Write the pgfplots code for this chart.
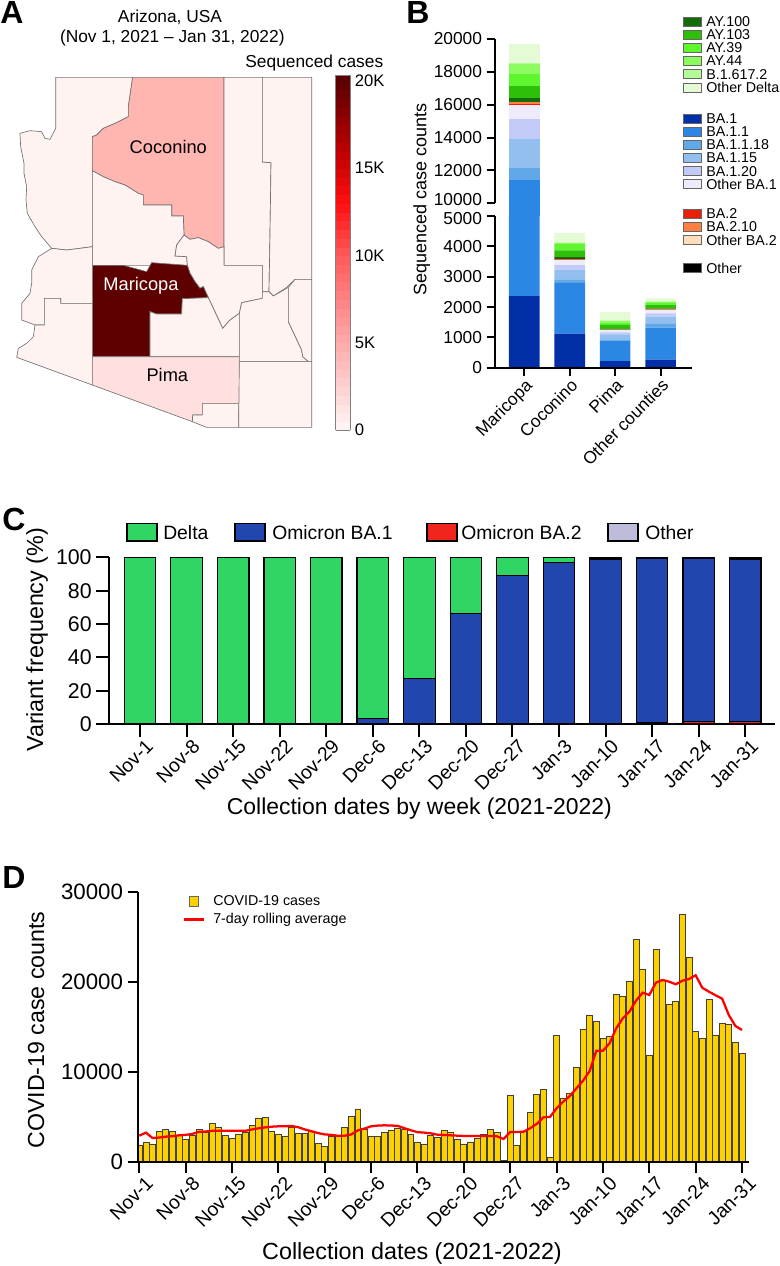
\documentclass[border=0pt]{standalone}
\usepackage{pgfplots}
\usepackage{pgfplotstable}
\pgfplotsset{compat=1.18}
\usepackage{fontspec}
\setmainfont{Liberation Sans}
\newcommand\fs[1]{\fontsize{#1}{#1}\selectfont}
\definecolor{cnt}{HTML}{FFF3F2}
\definecolor{coc}{HTML}{FFB5B0}
\definecolor{pim}{HTML}{FFE0DF}
\definecolor{mar}{HTML}{5F0000}
\definecolor{cA}{HTML}{002FA7}\definecolor{cB}{HTML}{2B87E3}\definecolor{cC}{HTML}{60A8E8}
\definecolor{cD}{HTML}{93BEF0}\definecolor{cE}{HTML}{C2CAF7}\definecolor{cF}{HTML}{F0EAFD}
\definecolor{cG}{HTML}{E8200A}\definecolor{cH}{HTML}{FF8040}\definecolor{cI}{HTML}{FFDDBB}
\definecolor{cJ}{HTML}{000000}
\definecolor{cK}{HTML}{156A0A}\definecolor{cL}{HTML}{2EBF0A}\definecolor{cM}{HTML}{5FF52F}
\definecolor{cN}{HTML}{8CFB60}\definecolor{cO}{HTML}{B5FB95}\definecolor{cP}{HTML}{E5FBD5}
\definecolor{dlt}{HTML}{30D563}\definecolor{bao}{HTML}{2146AD}\definecolor{bat}{HTML}{F0251E}\definecolor{oth}{HTML}{BDBDDB}
\definecolor{cas}{HTML}{FDD000}
\pgfplotsset{
  base/.style={scale only axis, enlargelimits=false, axis on top, scaled ticks=false,
    /pgf/number format/1000 sep={}, /pgf/number format/assume math mode=true,
    axis lines*=left, axis line style={line width=1.5pt,-},
    tick align=outside, major tick length=8pt, tick style={line width=1.5pt,black},
    minor tick num=0, xtick pos=bottom, ytick pos=left},
}
\pgfplotstableread{
x a b c d e f g h i j k l m n o p
0 2360 9060 750 1745 1195 870 80 80 10 10 240 740 750 570 100 1110
1 1120 1680 110 310 165 165 20 5 5 5 60 220 205 45 5 315
2 220 670 45 165 65 75 5 5 2 3 15 140 80 55 5 280
3 265 1055 140 220 110 110 12 13 3 2 15 120 85 25 5 105
}\Btab
\pgfplotstableread{
x ba2 ba1 oth dlt
0 0 0 0 100
1 0 0 0 100
2 0 0 0 100
3 0 0 0 100
4 0 0 0 100
5 0 3.5 0 96.5
6 0 27.5 0 72.5
7 0 66.5 0 33.5
8 0 89 0 11
9 0 97 0 3
10 0.3 98.3 0.4 1
11 0.8 98.5 0.5 0.2
12 1.5 97.8 0.5 0.2
13 1.7 97.3 0.8 0.2
}\Ctab
\newcommand\Bbars{%
\addplot[fill=cA,draw=none] table[x=x,y=a]{\Btab};
\addplot[fill=cB,draw=none] table[x=x,y=b]{\Btab};
\addplot[fill=cC,draw=none] table[x=x,y=c]{\Btab};
\addplot[fill=cD,draw=none] table[x=x,y=d]{\Btab};
\addplot[fill=cE,draw=none] table[x=x,y=e]{\Btab};
\addplot[fill=cF,draw=none] table[x=x,y=f]{\Btab};
\addplot[fill=cG,draw=none] table[x=x,y=g]{\Btab};
\addplot[fill=cH,draw=none] table[x=x,y=h]{\Btab};
\addplot[fill=cI,draw=none] table[x=x,y=i]{\Btab};
\addplot[fill=cJ,draw=none] table[x=x,y=j]{\Btab};
\addplot[fill=cK,draw=none] table[x=x,y=k]{\Btab};
\addplot[fill=cL,draw=none] table[x=x,y=l]{\Btab};
\addplot[fill=cM,draw=none] table[x=x,y=m]{\Btab};
\addplot[fill=cN,draw=none] table[x=x,y=n]{\Btab};
\addplot[fill=cO,draw=none] table[x=x,y=o]{\Btab};
\addplot[fill=cP,draw=none] table[x=x,y=p]{\Btab};
}
\begin{document}
\begin{tikzpicture}[x=0.75pt,y=-0.75pt]
\path[use as bounding box] (0,0) rectangle (780,1266);
% panel letters
\foreach \t/\x/\y in {A/0/24,B/406/24,C/2/530,D/2/888}
  \node[anchor=base west,inner sep=0pt,font=\fs{24}\bfseries] at (\x,\y) {\t};
% ---- A map
\begin{axis}[at={(0pt,-337.5pt)},anchor=south west,scale only axis,width=300pt,height=337.5pt,
  xmin=0,xmax=1200,ymin=0,ymax=1350,y dir=reverse,hide axis,clip=false,
  every axis plot/.append style={draw=black!55,line width=0.5pt}]
\addplot[fill=cnt] coordinates {(167,232)(398,232)(385,320)(385,350)(350,368)(310,385)(290,405)(277,410)(277,740)(240,745)(200,750)(155,745)(125,710)(105,680)(82,640)(78,600)(80,560)(72,520)(72,490)(62,440)(60,400)(90,392)(125,395)(135,415)(150,418)(167,385)} --cycle;
\addplot[fill=coc] coordinates {(398,232)(672,232)(672,740)(655,745)(625,725)(595,713)(570,718)(552,705)(550,648)(515,648)(515,615)(430,615)(430,585)(415,580)(375,555)(345,545)(310,530)(277,512)(277,410)(290,405)(310,385)(350,368)(385,350)(385,320)} --cycle;
\addplot[fill=cnt] coordinates {(672,232)(787,232)(787,486)(813,488)(810,700)(807,875)(787,875)(787,796)(672,796)} --cycle;
\addplot[fill=cnt] coordinates {(787,232)(935,232)(935,838)(885,838)(860,862)(820,888)(807,875)(810,700)(813,488)(787,486)} --cycle;
\addplot[fill=cnt] coordinates {(277,512)(310,530)(345,545)(375,555)(415,580)(430,585)(430,615)(515,615)(515,648)(550,648)(552,705)(530,735)(525,768)(560,770)(562,796)(277,796)} --cycle;
\addplot[fill=cnt] coordinates {(552,705)(570,718)(595,713)(625,725)(655,745)(672,740)(672,796)(787,796)(787,895)(725,908)(718,940)(690,960)(668,985)(640,925)(625,893)(610,860)(600,865)(585,845)(570,820)(562,796)(560,770)(525,768)(530,735)} --cycle;
\addplot[fill=mar] coordinates {(277,796)(370,796)(440,815)(455,788)(562,796)(570,820)(585,845)(600,865)(610,860)(625,893)(547,896)(545,942)(470,942)(450,935)(450,1070)(277,1070)} --cycle;
\addplot[fill=cnt] coordinates {(450,935)(470,942)(545,942)(547,896)(625,893)(668,985)(690,960)(718,940)(718,1070)(450,1070)} --cycle;
\addplot[fill=cnt] coordinates {(155,745)(200,750)(240,745)(277,740)(277,910)(182,910)(182,895)(133,895)(133,975)(105,975)(65,960)(65,910)(90,880)(95,850)(95,810)(115,770)} --cycle;
\addplot[fill=cnt] coordinates {(133,895)(182,895)(182,910)(277,910)(277,1155)(50,1072)(55,1045)(80,1030)(100,1010)(105,975)(133,975)} --cycle;
\addplot[fill=pim] coordinates {(277,1070)(718,1070)(718,1210)(607,1210)(607,1245)(578,1245)(577,1265)(277,1155)} --cycle;
\addplot[fill=cnt] coordinates {(607,1210)(716,1210)(716,1282)(620,1282)(577,1265)(578,1245)(607,1245)} --cycle;
\addplot[fill=cnt] coordinates {(718,1084)(935,1084)(935,1282)(716,1282)} --cycle;
\addplot[fill=cnt] coordinates {(718,940)(725,908)(787,895)(787,875)(807,875)(820,888)(865,862)(865,965)(905,1050)(908,1070)(925,1084)(718,1084)} --cycle;
\addplot[fill=cnt] coordinates {(865,862)(885,838)(935,838)(935,1084)(925,1084)(908,1070)(905,1050)(865,965)} --cycle;
\node[font=\fs{13.7}] at (axis cs:505,440) {Coconino};
\node[font=\fs{13.7},text=white] at (axis cs:423,858) {Maricopa};
\node[font=\fs{13.7}] at (axis cs:502,1126) {Pima};
\node[font=\fs{13}] at (axis cs:510,52) {Arizona, USA};
\node[font=\fs{13}] at (axis cs:517,115) {(Nov 1, 2021 -- Jan 31, 2022)};
\node[font=\fs{13}] at (axis cs:943,190) {Sequenced cases};
\end{axis}
% colour bar
\begin{axis}[at={(251.775pt,-322.5pt)},anchor=south west,scale only axis,width=10.75pt,height=266.25pt,
  view={0}{90},xmin=0,xmax=1,ymin=0,ymax=20344,enlargelimits=false,scaled ticks=false,
  xtick=\empty,ytick={0,5000,10000,15000,20000},yticklabels={0,5K,10K,15K,20K},
  ytick pos=right,yticklabel pos=right,major tick length=0pt,
  axis line style={black!50,line width=0.7pt},
  tick label style={font=\fs{12.5}},/pgf/number format/assume math mode=true,
  colormap={arz}{rgb255(0pt)=(255,247,247) rgb255(5pt)=(255,170,170) rgb255(10pt)=(255,90,90) rgb255(13pt)=(255,15,15) rgb255(16pt)=(190,0,0) rgb255(20pt)=(90,0,0)},
  point meta min=0,point meta max=20000]
\addplot3[surf,shader=flat,mesh/rows=42,mesh/cols=2,point meta=y] coordinates {
(0,0,0)(1,0,0)(0,500,0)(1,500,0)(0,1000,0)(1,1000,0)(0,1500,0)(1,1500,0)(0,2000,0)(1,2000,0)
(0,2500,0)(1,2500,0)(0,3000,0)(1,3000,0)(0,3500,0)(1,3500,0)(0,4000,0)(1,4000,0)(0,4500,0)(1,4500,0)
(0,5000,0)(1,5000,0)(0,5500,0)(1,5500,0)(0,6000,0)(1,6000,0)(0,6500,0)(1,6500,0)(0,7000,0)(1,7000,0)
(0,7500,0)(1,7500,0)(0,8000,0)(1,8000,0)(0,8500,0)(1,8500,0)(0,9000,0)(1,9000,0)(0,9500,0)(1,9500,0)
(0,10000,0)(1,10000,0)(0,10500,0)(1,10500,0)(0,11000,0)(1,11000,0)(0,11500,0)(1,11500,0)(0,12000,0)(1,12000,0)
(0,12500,0)(1,12500,0)(0,13000,0)(1,13000,0)(0,13500,0)(1,13500,0)(0,14000,0)(1,14000,0)(0,14500,0)(1,14500,0)
(0,15000,0)(1,15000,0)(0,15500,0)(1,15500,0)(0,16000,0)(1,16000,0)(0,16500,0)(1,16500,0)(0,17000,0)(1,17000,0)
(0,17500,0)(1,17500,0)(0,18000,0)(1,18000,0)(0,18500,0)(1,18500,0)(0,19000,0)(1,19000,0)(0,19500,0)(1,19500,0)
(0,20000,0)(1,20000,0)(0,20344,0)(1,20344,0)};
\end{axis}
% ---- B lower
\begin{axis}[base,at={(371.025pt,-275.775pt)},anchor=south west,width=147.75pt,height=113.75pt,
  major tick length=6pt,
  ybar stacked,bar width=0.675,xmin=-0.652,xmax=3.685,ymin=0,ymax=5000,
  ytick={0,1000,2000,3000,4000},extra y ticks={5000},
  extra y tick style={y tick label style={yshift=-1.5pt}},
  xtick={0,1,2,3},
  xticklabels={Maricopa,Coconino,Pima,Other counties},
  y tick label style={font=\fs{13}},
  x tick label style={font=\fs{13},rotate=45,anchor=north east,inner sep=1pt}]
\Bbars
\end{axis}
% B upper bars
\begin{axis}[scale only axis,at={(371.025pt,-162pt)},anchor=south west,width=147.75pt,height=132.75pt,hide axis,
  ybar stacked,bar width=0.675,xmin=-0.652,xmax=3.685,ymin=9227,ymax=20000,enlargelimits=false,
  restrict x to domain=-0.5:0.5]
\Bbars
\end{axis}
% B upper spine
\begin{axis}[base,at={(371.025pt,-152.475pt)},anchor=south west,width=147.75pt,height=123.25pt,
  major tick length=6pt,
  xmin=-0.652,xmax=3.685,ymin=10000,ymax=20000,
  ytick={12000,14000,16000,18000,20000},extra y ticks={10000},
  extra y tick style={y tick label style={yshift=3pt}},
  xtick=\empty,
  axis x line=none,
  y tick label style={font=\fs{13}},
  ylabel={Sequenced case counts},
  ylabel style={font=\fs{13.5},at={(axis description cs:-0.37,0.026)},anchor=center}]
\addplot[draw=none] coordinates {(0,15000)};
\end{axis}
% B legend
\foreach \c/\t/\y in {cK/AY.100/21.7,cL/AY.103/35,cM/AY.39/48,cN/AY.44/61,cO/B.1.617.2/74.3,cP/Other Delta/87.7,
  cA/BA.1/118.7,cB/BA.1.1/131.7,cC/BA.1.1.18/145,cD/BA.1.15/158,cE/BA.1.20/171.3,cF/Other BA.1/184.3,
  cG/BA.2/214,cH/BA.2.10/227,cI/Other BA.2/240.3,cJ/Other/268.3}{
  \draw[draw=black!60,line width=0.6pt,fill=\c] (683.5,{\y-4.5}) rectangle (701.5,{\y+4.5});
  \node[anchor=west,inner sep=0pt,font=\fs{10.7}] at (706,\y) {\t};
}
% ---- C
\begin{axis}[base,at={(81.75pt,-543pt)},anchor=south west,width=499.5pt,height=125pt,
  major tick length=9.5pt,
  ybar stacked,bar width=0.677,xmin=-0.667,xmax=13.64,ymin=0,ymax=100,
  ytick={0,20,40,60,80,100},xtick={0,...,13},
  xticklabels={Nov-1,Nov-8,Nov-15,Nov-22,Nov-29,Dec-6,Dec-13,Dec-20,Dec-27,Jan-3,Jan-10,Jan-17,Jan-24,Jan-31},
  y tick label style={font=\fs{16}},
  x tick label style={font=\fs{14.5},rotate=45,anchor=north east,inner sep=1pt,xshift=3pt,yshift=-2pt},
  ylabel={Variant frequency (\%)},
  ylabel style={font=\fs{17.5},at={(axis description cs:-0.108,0.505)},anchor=center},
  xlabel={Collection dates by week (2021-2022)},
  xlabel style={font=\fs{17.2},at={(axis description cs:0.466,-0.51)},anchor=center},
  every axis plot/.append style={draw=black,line width=0.9pt}]
\addplot[fill=bat] table[x=x,y=ba2]{\Ctab};
\addplot[fill=bao] table[x=x,y=ba1]{\Ctab};
\addplot[fill=oth] table[x=x,y=oth]{\Ctab};
\addplot[fill=dlt] table[x=x,y=dlt]{\Ctab};
\end{axis}
\foreach \c/\t/\x/\tx in {dlt/Delta/127/163,bao/Omicron BA.1/235/272,bat/Omicron BA.2/427/461,oth/Other/608/645}{
  \draw[draw=black,line width=0.9pt,fill=\c] (\x,523.5) rectangle ({\x+30},541);
  \node[anchor=west,inner sep=0pt,font=\fs{14.5}] at (\tx,533) {\t};
}
% ---- D
\begin{axis}[base,at={(103.725pt,-871.725pt)},anchor=south west,width=458.25pt,height=202.5pt,
  ybar,bar shift=0pt,bar width=0.9,xmin=-0.15,xmax=92.1,ymin=0,ymax=30000,
  ytick={0,10000,20000,30000},xtick={0,7,...,91},
  xticklabels={Nov-1,Nov-8,Nov-15,Nov-22,Nov-29,Dec-6,Dec-13,Dec-20,Dec-27,Jan-3,Jan-10,Jan-17,Jan-24,Jan-31},
  y tick label style={font=\fs{16.7}},
  x tick label style={font=\fs{14.5},rotate=45,anchor=north east,inner sep=1pt,xshift=3pt,yshift=-3pt},
  ylabel={COVID-19 case counts},
  ylabel style={font=\fs{17.4},at={(axis description cs:-0.167,0.49)},anchor=center},
  xlabel={Collection dates (2021-2022)},
  xlabel style={font=\fs{17.5},at={(axis description cs:0.448,-0.336)},anchor=center}]
\addplot[fill=cas,draw=black!75,line width=0.55pt] coordinates {
(0,1926)(1,2220)(2,2040)(3,3400)(4,3670)(5,3400)(6,3040)(7,2560)(8,3040)(9,3670)
(10,3300)(11,4330)(12,3890)(13,3000)(14,2670)(15,3110)(16,3330)(17,4070)(18,4930)(19,5000)
(20,3480)(21,3110)(22,2930)(23,3890)(24,3220)(25,3190)(26,3480)(27,2110)(28,1810)(29,2850)
(30,2850)(31,3890)(32,5110)(33,5930)(34,3670)(35,2930)(36,2850)(37,3370)(38,3560)(39,3740)
(40,3670)(41,3110)(42,2260)(43,2040)(44,3040)(45,2780)(46,3520)(47,3330)(48,2590)(49,2040)
(50,2260)(51,2670)(52,3110)(53,3670)(54,3330)(55,185)(56,7480)(57,1850)(58,3400)(59,5560)
(60,7590)(61,8070)(62,555)(63,14070)(64,7070)(65,7630)(66,10560)(67,14740)(68,16330)(69,15670)
(70,13810)(71,14000)(72,18670)(73,18410)(74,20110)(75,24810)(76,21480)(77,11930)(78,23670)(79,20260)
(80,17560)(81,17890)(82,27560)(83,22740)(84,14590)(85,13810)(86,18070)(87,14150)(88,15440)(89,15330)
(90,13300)(91,12110)};
\addplot[sharp plot,red,line width=1.7pt,mark=none] coordinates {
(0,2960)(1,3300)(2,2700)(3,2750)(4,2850)(5,2900)(6,3000)(7,3050)(8,3150)(9,3400)
(10,3420)(11,3500)(12,3520)(13,3520)(14,3520)(15,3520)(16,3500)(17,3650)(18,3780)(19,3880)
(20,3960)(21,4000)(22,4000)(23,4040)(24,3900)(25,3650)(26,3450)(27,3250)(28,3100)(29,3050)
(30,2950)(31,2950)(32,3100)(33,3550)(34,3750)(35,4000)(36,4080)(37,4110)(38,4090)(39,4050)
(40,3800)(41,3560)(42,3350)(43,3300)(44,3220)(45,3070)(46,3040)(47,3000)(48,2960)(49,2930)
(50,2930)(51,2930)(52,2930)(53,2930)(54,2890)(55,2590)(56,3370)(57,3370)(58,3400)(59,3780)
(60,4260)(61,5000)(62,5040)(63,6000)(64,6740)(65,7370)(66,8220)(67,9070)(68,10150)(69,12400)
(70,12400)(71,13220)(72,14880)(73,16000)(74,16740)(75,17960)(76,18850)(77,18590)(78,19960)(79,20260)
(80,20070)(81,19780)(82,20180)(83,20370)(84,20780)(85,19400)(86,18960)(87,18560)(88,18190)(89,16370)
(90,15150)(91,14700)};
\end{axis}
\draw[draw=black!60,line width=0.7pt,fill=cas] (189.5,896) rectangle (198,906.5);
\node[anchor=west,inner sep=0pt,font=\fs{10.7}] at (213,901) {COVID-19 cases};
\draw[red,line width=1.7pt] (184,919.5) -- (204,919.5);
\node[anchor=west,inner sep=0pt,font=\fs{10.7}] at (213,920) {7-day rolling average};
\end{tikzpicture}
\end{document}
